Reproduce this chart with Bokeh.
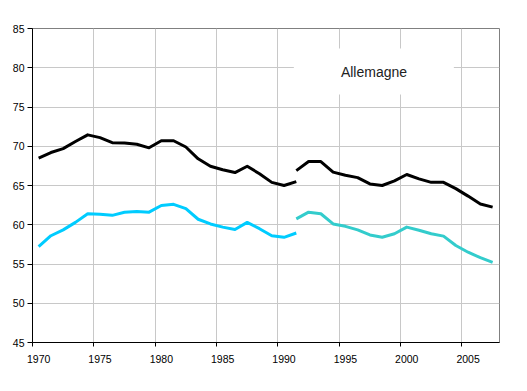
import numpy as np
from bokeh.plotting import figure
from bokeh.models import FixedTicker, Range1d, Grid, Label, BoxAnnotation
from bokeh.embed import file_html
from bokeh.resources import INLINE

# Data: West Germany up to 1991, unified Germany from 1991
years_west = list(range(1970, 1992))
black_west = [68.5, 69.2, 69.7, 70.6, 71.45, 71.1, 70.45, 70.4, 70.25, 69.8,
              70.7, 70.7, 69.9, 68.4, 67.45, 67.0, 66.65, 67.45, 66.5, 65.4,
              65.0, 65.5]
cyan_west = [57.2, 58.6, 59.35, 60.3, 61.4, 61.35, 61.2, 61.6, 61.7, 61.6,
             62.45, 62.6, 62.05, 60.7, 60.1, 59.7, 59.4, 60.3, 59.5, 58.6,
             58.4, 58.95]
years_unif = list(range(1991, 2008))
black_unif = [66.9, 68.05, 68.05, 66.7, 66.3, 66.0, 65.2, 65.0, 65.6, 66.4,
              65.85, 65.4, 65.4, 64.6, 63.65, 62.65, 62.25]
cyan_unif = [60.75, 61.6, 61.4, 60.1, 59.8, 59.35, 58.7, 58.4, 58.85, 59.7,
             59.3, 58.85, 58.55, 57.35, 56.5, 55.8, 55.2]

x_ticks = [1970, 1975, 1980, 1985, 1990, 1995, 2000, 2005]
y_ticks = [45, 50, 55, 60, 65, 70, 75, 80, 85]
legend_text = "Allemagne"

# values are plotted at mid-year
xw = np.array(years_west) + 0.5
xu = np.array(years_unif) + 0.5

p = figure(width=509, height=370, frame_width=467, frame_height=314,
           min_border_left=32, min_border_top=28, min_border_right=10,
           min_border_bottom=28,
           x_range=Range1d(1970, 2008.06), y_range=Range1d(45, 85),
           output_backend="svg", toolbar_location=None)
p.background_fill_color = "white"
p.border_fill_color = "white"
p.outline_line_color = "#808080"
p.outline_line_width = 1

font = "Liberation Sans"

# x axis: labels at mid-year, tick marks and grid lines at year boundaries
p.xaxis.ticker = FixedTicker(ticks=[t + 0.5 for t in x_ticks], minor_ticks=x_ticks)
p.xaxis.major_label_overrides = {t + 0.5: str(t) for t in x_ticks}
p.xaxis.major_tick_out = 0
p.xaxis.major_tick_in = 0
p.xaxis.minor_tick_out = 4
p.xaxis.minor_tick_in = 0
p.xaxis.minor_tick_line_color = "black"
p.xaxis.axis_line_color = "black"
p.xaxis.major_label_standoff = 8
p.xaxis.major_label_text_font = font
p.xaxis.major_label_text_font_size = "10.5px"
p.xaxis.major_label_text_color = "black"

p.yaxis.ticker = FixedTicker(ticks=y_ticks)
p.yaxis.major_tick_out = 5
p.yaxis.major_tick_in = 0
p.yaxis.minor_tick_line_color = None
p.yaxis.axis_line_color = "black"
p.yaxis.major_label_standoff = 3
p.yaxis.major_label_text_font = font
p.yaxis.major_label_text_font_size = "10.5px"
p.yaxis.major_label_text_color = "black"

p.xgrid.visible = False
p.add_layout(Grid(dimension=0, ticker=FixedTicker(ticks=x_ticks),
                  grid_line_color="#C8C8C8", grid_line_width=1))
p.ygrid.grid_line_color = "#C8C8C8"
p.ygrid.grid_line_width = 1

p.line(xw, black_west, line_color="black", line_width=3, line_join="round")
p.line(xu, black_unif, line_color="black", line_width=3, line_join="round")
p.line(xw, cyan_west, line_color="#00CCFF", line_width=3, line_join="round")
p.line(xu, cyan_unif, line_color="#33CCCC", line_width=3, line_join="round")

# legend box
p.add_layout(BoxAnnotation(left=1991.3, right=2004.34, top=82.45, bottom=76.6,
                           fill_color="white", fill_alpha=1.0, line_color=None,
                           level="annotation"))
p.add_layout(Label(x=1997.83, y=79.4, text=legend_text, text_align="center",
                   text_baseline="middle", text_font=font, text_font_size="14px",
                   text_color="#222222"))

open("out.html", "w").write(file_html(p, INLINE))
